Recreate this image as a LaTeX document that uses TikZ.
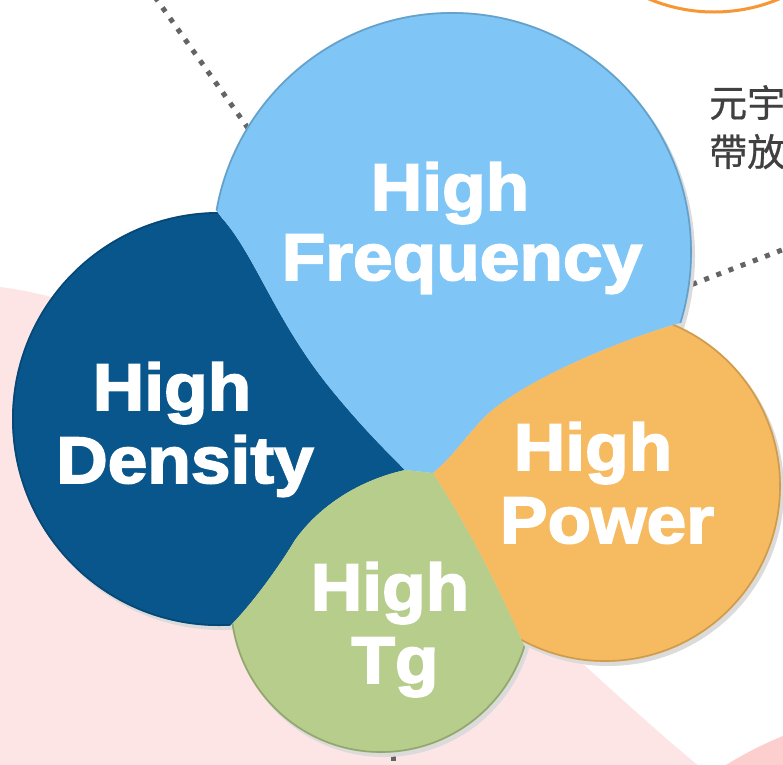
\documentclass[tikz,border=0pt]{standalone}
\usepackage{fontspec}
\usepackage{graphicx}
\setmainfont{Liberation Sans}
\newfontfamily\heavyfont{Liberation Sans Bold}[FakeBold=2.6, FakeStretch=1.08]
\newfontfamily\cjkfont{Noto Sans CJK TC}[FakeBold=0.6]
\definecolor{lblue}{RGB}{127,198,247}
\definecolor{dblue}{RGB}{9,86,140}
\definecolor{orangep}{RGB}{246,187,96}
\definecolor{greenp}{RGB}{183,205,140}
\definecolor{pinkbg}{RGB}{253,229,229}
\definecolor{pinkdeep}{RGB}{253,206,206}
\definecolor{dotgrey}{RGB}{100,100,100}
\definecolor{textgrey}{RGB}{64,64,64}
\definecolor{ringcol}{RGB}{247,150,50}
\begin{document}
\begin{tikzpicture}[x=1pt,y=-1pt,
  lbl/.style={text=white, font=\heavyfont\fontsize{66}{66}\selectfont, anchor=base, inner sep=0pt},
  cjk/.style={text=textgrey, font=\cjkfont\fontsize{38}{38}\selectfont, anchor=base west, inner sep=0pt},
  dotline/.style={draw=dotgrey, line width=5pt, dash pattern=on 5pt off 8pt},
  shadowc/.style={fill=black!14},
  rim/.style={line width=1.6pt, opacity=0.55}]
\useasboundingbox (0,0) rectangle (783,764);
\clip (0,0) rectangle (783,764);
\fill[white] (0,0) rectangle (783,764);
% background shapes
\fill[pinkbg] (0,287) .. controls (260,320) and (540,640) .. (710,775) -- (0,775) -- cycle;
\fill[pinkdeep] (718,770) .. controls (740,756) and (760,745) .. (790,733) -- (790,770) -- cycle;
% orange ring top right
\draw[ringcol, line width=3pt] (714,-156) circle[radius=168pt];
% dotted connectors
\coordinate (d1s) at (155,-3);
\coordinate (d1e) at (255,138);
\coordinate (d2s) at (680,289);
\coordinate (d2e) at (795,245);
\coordinate (d3s) at (393,730);
\coordinate (d3e) at (393,780);
\draw[dotline] (d1s) -- (d1e);
\draw[dotline] (d2s) -- (d2e);
\draw[dotline] (d3s) -- (d3e);
% shadows
\fill[shadowc] (222,423) circle[radius=207pt];
\fill[shadowc] (455,256) circle[radius=240pt];
\fill[shadowc] (384,606) circle[radius=151pt];
\fill[shadowc] (608,490) circle[radius=176pt];
% dark blue piece
\begin{scope}
\clip (150,124) -- (222,218) .. controls (255,255) and (275,320) .. (330,388) .. controls (360,425) and (385,450) .. (405,470)
  .. controls (360,480) and (320,505) .. (295,540) .. controls (280,565) and (255,600) .. (233,623)
  -- (190,660) -- (-100,700) -- (-100,124) -- cycle;
\fill[dblue] (219,419) circle[radius=207pt];
\draw[rim, draw=dblue!70!black] (219,419) circle[radius=206pt];
\end{scope}
% light blue piece
\begin{scope}
\clip (150,124) -- (222,218) .. controls (255,255) and (275,320) .. (330,388) .. controls (360,425) and (385,450) .. (405,470)
  -- (433,473) .. controls (455,455) and (470,430) .. (490,412) .. controls (530,378) and (620,340) .. (680,323)
  -- (760,296) -- (760,-100) -- (150,-100) -- cycle;
\fill[lblue] (452,252) circle[radius=240pt];
\draw[rim, draw=lblue!65!black] (452,252) circle[radius=239pt];
\end{scope}
% green piece
\begin{scope}
\clip (405,470) -- (433,473) .. controls (470,530) and (500,590) .. (527,652) -- (545,700) -- (545,900) -- (150,900) -- (190,660) -- (233,623)
  .. controls (255,600) and (280,565) .. (295,540) .. controls (320,505) and (360,480) .. (405,470) -- cycle;
\fill[greenp] (381,602) circle[radius=151pt];
\draw[rim, draw=greenp!65!black] (381,602) circle[radius=150pt];
\end{scope}
% orange piece
\begin{scope}
\clip (433,473) .. controls (455,455) and (470,430) .. (490,412) .. controls (530,378) and (620,340) .. (680,323)
  -- (760,296) -- (900,296) -- (900,900) -- (545,900) -- (545,700) -- (527,652) .. controls (500,590) and (470,530) .. (433,473) -- cycle;
\fill[orangep] (605,486) circle[radius=176pt];
\draw[rim, draw=orangep!70!black] (605,486) circle[radius=175pt];
\end{scope}
% labels
\node[lbl] (hf1) at (450,210) {High};
\node[lbl] (hf2) at (462,280) {Frequency};
\node[lbl] (hd1) at (172,410) {High};
\node[lbl] (hd2) at (185,483) {Density};
\node[lbl] (hp1) at (593,470) {High};
\node[lbl] (hp2) at (607,543) {Power};
\node[lbl] (ht1) at (390,610) {High};
\node[lbl] (ht2) at (395,683) {Tg};
% chinese text
\node[cjk] (c1) at (709,117) {元宇};
\node[cjk] (c2) at (709,166) {帶放};
\end{tikzpicture}
\end{document}
